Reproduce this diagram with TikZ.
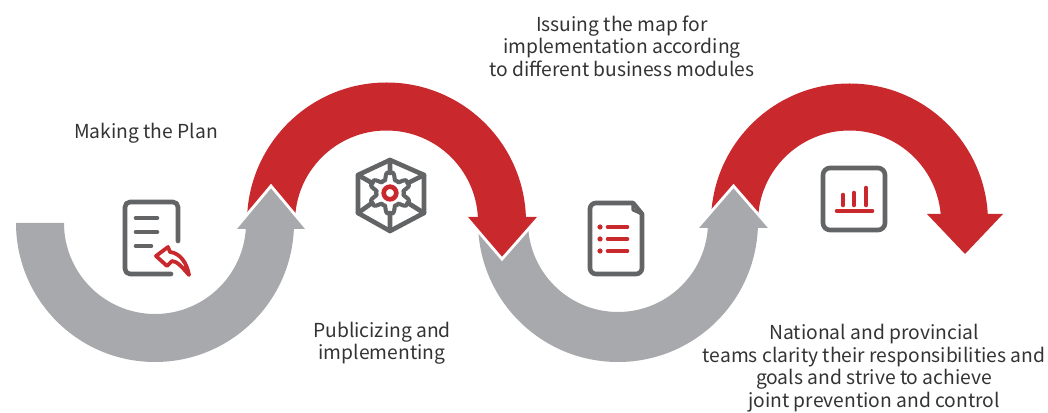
\documentclass[tikz,border=0pt]{standalone}
\usepackage{fontspec}
\setmainfont{Noto Sans CJK SC}
\definecolor{bandgrey}{HTML}{A7A9AC}
\definecolor{bandred}{HTML}{C9282D}
\definecolor{icongrey}{HTML}{636466}
\tikzset{
	greyband/.style={fill=bandgrey,draw=none},
	redband/.style={fill=bandred,draw=none},
	headedge/.style={draw=white,line width=2pt},
	iconline/.style={draw=icongrey,line width=3.3pt,line cap=round,line join=round},
	iconred/.style={draw=bandred,line width=3.3pt,line cap=round,line join=round},
	steptext/.style={align=center,text=black!80,font=\fontsize{13.7}{16}\selectfont}
}
\begin{document}
\begin{tikzpicture}[x=0.25mm,y=0.25mm]
	\useasboundingbox (0,0) rectangle (1048,413);
	% bands
	\fill[redband] (247,191) arc[start angle=180,end angle=0,radius=139.5] -- (478,191) arc[start angle=0,end angle=180,radius=91.5] -- cycle;
	\fill[greyband] (16,190) arc[start angle=180,end angle=360,radius=139] -- (246,190) arc[start angle=360,end angle=180,radius=91] -- cycle;
	\fill[greyband] (235,184) -- (271,227) -- (307,184) -- cycle;
	\draw[headedge] (235,184) -- (271,227) -- (307,184);
	\fill[greyband] (478,191) arc[start angle=180,end angle=360,radius=140] -- (708,191) arc[start angle=360,end angle=180,radius=90] -- cycle;
	\fill[redband] (466,196) -- (502,154) -- (539,196) -- cycle;
	\draw[headedge] (466,196) -- (502,154) -- (539,196);
	\fill[redband] (711,191) arc[start angle=180,end angle=0,radius=138.5] -- (941,191) arc[start angle=0,end angle=180,radius=91.5] -- cycle;
	\fill[greyband] (697,185) -- (733.5,227) -- (770,185) -- cycle;
	\draw[headedge] (697,185) -- (733.5,227) -- (770,185);
	\fill[redband] (927,199) -- (965,159) -- (1003,199) -- cycle;
	% icon of the plan
	\draw[iconline] (178,172) -- (178,206) arc[start angle=0,end angle=90,radius=5] -- (130,211) arc[start angle=90,end angle=180,radius=5] -- (125,144) arc[start angle=180,end angle=270,radius=5] -- (171,139);
	\draw[iconline] (136,195) -- (157,195) (136,181) -- (157,181) (136,167) -- (151,167);
	\draw[iconred,line width=2.7pt] (156,157) -- (168,166) -- (170,161) .. controls (180,160) and (187,150) .. (189,138) .. controls (183,145) and (177,152) .. (172,152) -- (167,147) -- cycle;
	% icon of the hexagon
	\draw[iconline] (390,253) -- (424,238) -- (424,200) -- (390,182) -- (358,200) -- (358,238) -- cycle;
	\draw[iconline] (390,253) -- (390,240) (390,182) -- (390,200) (358,238) -- (372,230) (424,238) -- (408,230) (358,200) -- (372,210) (424,200) -- (408,210);
	\draw[iconline,line width=2.9pt] plot[smooth cycle,domain=0:357,samples=120] ({390+(17+4*cos(6*\x)-0.9*cos(18*\x))*cos(\x+30)},{220+(17+4*cos(6*\x)-0.9*cos(18*\x))*sin(\x+30)});
	\draw[iconred] (390,220) circle[radius=6.3];
	% icon of the list
	\draw[iconline] (633,210) -- (596,210) arc[start angle=90,end angle=180,radius=6] -- (590,145) arc[start angle=180,end angle=270,radius=6] -- (636,139) arc[start angle=270,end angle=360,radius=6] -- (642,199) -- cycle;
	\draw[iconline,line width=2.2pt] (633,210) -- (633,203) -- (642,199);
	\foreach \y in {186,174,162} {
		\fill[bandred] (600,\y) circle[radius=2.6];
		\draw[iconred] (608,\y) -- (627,\y);
	}
	% icon of the chart
	\draw[iconline,rounded corners=5] (823,183) rectangle (885,245);
	\draw[iconred] (843,208) -- (843,218) (854,208) -- (854,220) (866,208) -- (866,225);
	\draw[iconred] (837,202) -- (872,202);
	% labels
	\node[steptext] (plan) at (146,280) {Making the Plan};
	\node[steptext] (issue) at (622,367) {Issuing the map for\\implementation according\\to different business modules};
	\node[steptext] (publicize) at (382,70) {Publicizing and\\implementing};
	\node[steptext] (teams) at (874,45) {National and provincial\\teams clarity their responsibilities and\\goals and strive to achieve\\joint prevention and control};
\end{tikzpicture}
\end{document}
